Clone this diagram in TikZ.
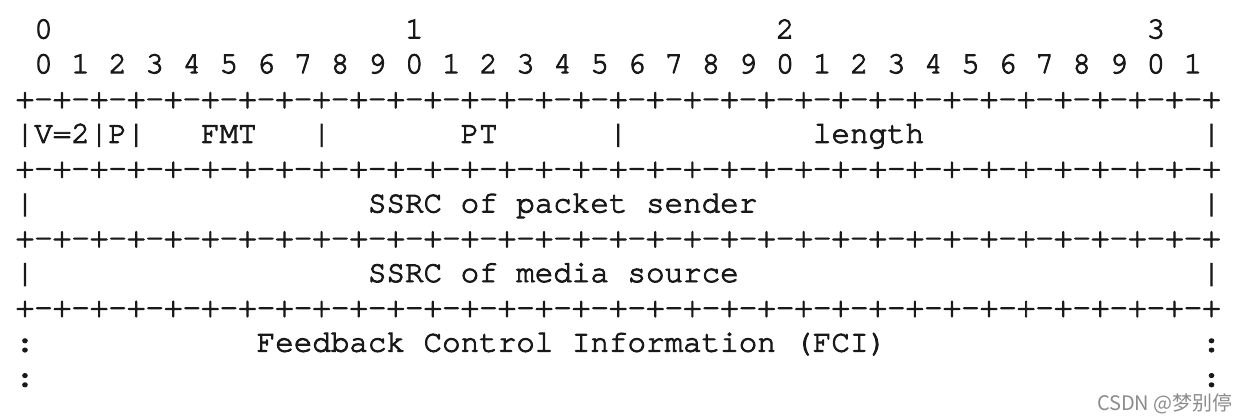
\documentclass[tikz,border=0pt]{standalone}
\usepackage{fontspec}
\newfontfamily\asciifont[FakeBold=3]{TeX Gyre Cursor}
\newfontfamily\cjkfont{Noto Sans CJK SC}
\begin{document}
\begin{tikzpicture}[x=1pt,y=1pt,
  asc/.style={inner sep=0pt,outer sep=0pt,anchor=base west,text=black!90,
    font=\asciifont\fontsize{30.9pt}{34.8pt}\selectfont},
  wmark/.style={inner sep=0pt,anchor=base east,text=black!45,
    font=\cjkfont\fontsize{20pt}{22pt}\selectfont}]
\useasboundingbox (0,0) rectangle (1248,-420);
\fill[white] (0,0) rectangle (1248,-420);
% header
\node[asc] (h0) at ({15.7+1*18.54},-38.4) {0};
\node[asc] (h1) at ({15.7+21*18.54},-38.4) {1};
\node[asc] (h2) at ({15.7+41*18.54},-38.4) {2};
\node[asc] (h3) at ({15.7+61*18.54},-38.4) {3};
\node[asc] (bits) at ({15.7+1*18.54},-73.2) {0 1 2 3 4 5 6 7 8 9 0 1 2 3 4 5 6 7 8 9 0 1 2 3 4 5 6 7 8 9 0 1};
% separators
\foreach \y/\n in {108/s1,177.6/s2,247.2/s3,316.8/s4}
  \node[asc] (\n) at (15.7,-\y) {+-+-+-+-+-+-+-+-+-+-+-+-+-+-+-+-+-+-+-+-+-+-+-+-+-+-+-+-+-+-+-+-+};
% row 1
\node[asc] (r1a) at ({15.7+0*18.54},-142.8) {|V=2|P|};
\node[asc] (fmt) at ({15.7+10*18.54},-142.8) {FMT};
\node[asc] (r1b) at ({15.7+16*18.54},-142.8) {|};
\node[asc] (pt) at ({15.7+24*18.54},-142.8) {PT};
\node[asc] (r1c) at ({15.7+32*18.54},-142.8) {|};
\node[asc] (len) at ({15.7+43*18.54},-142.8) {length};
\node[asc] (r1d) at ({15.7+64*18.54},-142.8) {|};
% row 2
\node[asc] (r2a) at ({15.7+0*18.54},-212.4) {|};
\node[asc] (sps) at ({15.7+19*18.54},-212.4) {SSRC of packet sender};
\node[asc] (r2b) at ({15.7+64*18.54},-212.4) {|};
% row 3
\node[asc] (r3a) at ({15.7+0*18.54},-282) {|};
\node[asc] (sms) at ({15.7+19*18.54},-282) {SSRC of media source};
\node[asc] (r3b) at ({15.7+64*18.54},-282) {|};
% row 4
\node[asc] (r4a) at ({15.7+0*18.54},-351.6) {:};
\node[asc] (fci) at ({15.7+13*18.54},-351.6) {Feedback Control Information (FCI)};
\node[asc] (r4b) at ({15.7+64*18.54},-351.6) {:};
% row 5
\node[asc] (r5a) at ({15.7+0*18.54},-386.4) {:};
\node[asc] (r5b) at ({15.7+64*18.54},-386.4) {:};
% watermark
\node[wmark] (wm) at (1233,-410) {CSDN @梦别停};
\end{tikzpicture}
\end{document}
